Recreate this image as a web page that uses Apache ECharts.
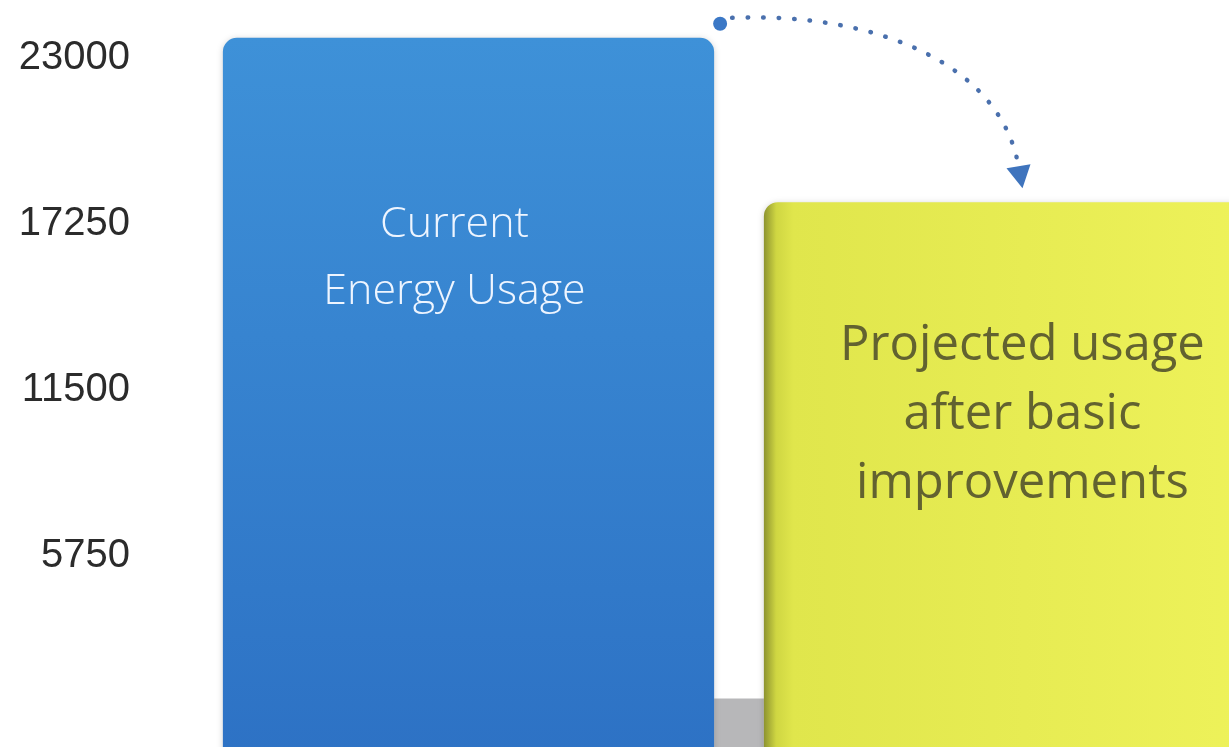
<!DOCTYPE html>
<html>
<head>
<meta charset="utf-8">
<script src="https://cdn.jsdelivr.net/npm/echarts@6/dist/echarts.min.js"></script>
<style>
html,body{margin:0;padding:0;background:#fff;}
#main{width:1229px;height:747px;}
</style>
</head>
<body>
<div id="main"></div>
<script>
// ---- data ----
var categories = ['Current Energy Usage', 'Projected usage after basic improvements'];
var barLabels = ['Current\nEnergy Usage', 'Projected usage\nafter basic\nimprovements'];
var values = [23700, 18000];
var tickValues = [5750, 11500, 17250, 23000];
var AXIS_MIN = -5750, AXIS_MAX = 23000, AXIS_STEP = 5750;

var chart = echarts.init(document.getElementById('main'));

var BAR_RATIO = 0.908;
var textStyles = [
  {dx: -14, dy: 220, fill: '#eef5ff', fontSize: 43, fontWeight: 300, lineHeight: 67},
  {dx: 13, dy: 213, fill: '#626230', fontSize: 49, fontWeight: 400, lineHeight: 69}
];
var fills = [
  new echarts.graphic.LinearGradient(0, 0, 0, 1, [
    {offset: 0, color: '#3e91d8'}, {offset: 1, color: '#2a6cc1'}
  ]),
  new echarts.graphic.LinearGradient(0, 0, 1, 0, [
    {offset: 0, color: '#8d9330'}, {offset: 0.025, color: '#cfd642'},
    {offset: 0.06, color: '#e0e64c'}, {offset: 1, color: '#eef25a'}
  ])
];

function renderBar(params, api) {
  var idx = api.value(0);
  var top = api.coord([idx, api.value(1)]);
  var base = api.coord([idx, AXIS_MIN]);
  var w = api.size([1, 0])[0] * BAR_RATIO;
  var ts = textStyles[idx];
  return {
    type: 'group',
    children: [
      {
        type: 'rect',
        shape: {x: top[0] - w / 2, y: top[1], width: w, height: base[1] - top[1], r: [14, 14, 0, 0]},
        style: {fill: fills[idx], shadowBlur: 6, shadowColor: 'rgba(0,0,0,0.18)', shadowOffsetX: 0, shadowOffsetY: 1}
      },
      {
        type: 'text',
        x: top[0] + ts.dx,
        y: top[1] + ts.dy,
        style: {
          text: barLabels[idx], fill: ts.fill, fontSize: ts.fontSize, fontWeight: ts.fontWeight,
          fontFamily: '"Open Sans"', lineHeight: ts.lineHeight, align: 'center', verticalAlign: 'middle'
        }
      }
    ]
  };
}

chart.setOption({
  backgroundColor: '#ffffff',
  animation: false,
  grid: {left: 198, right: -51, top: 58, height: 829.4, containLabel: false, outerBoundsMode: 'none'},
  xAxis: {
    type: 'category', data: categories, boundaryGap: true,
    axisLine: {show: false}, axisTick: {show: false}, axisLabel: {show: false}, splitLine: {show: false}
  },
  yAxis: {
    type: 'value', min: AXIS_MIN, max: AXIS_MAX, interval: AXIS_STEP,
    axisLine: {show: false}, axisTick: {show: false}, splitLine: {show: false},
    axisLabel: {
      margin: 68, color: '#2b2b2b', fontSize: 40, fontFamily: 'Liberation Sans',
      formatter: function (v) { return tickValues.indexOf(v) >= 0 ? String(v) : ''; }
    }
  },
  series: [{
    type: 'custom',
    renderItem: renderBar,
    data: values.map(function (v, i) { return [i, v]; }),
    encode: {x: 0, y: 1},
    clip: false,
    z: 2
  }]
});

// annotation: gray base block and dotted arrow, positioned from bar geometry
var band = chart.getModel().getComponent('xAxis', 0).axis.getBandWidth();
var w = band * BAR_RATIO;
var p0 = chart.convertToPixel({gridIndex: 0}, [0, values[0]]);
var p1 = chart.convertToPixel({gridIndex: 0}, [1, values[1]]);
var z0 = chart.convertToPixel({gridIndex: 0}, [0, 0]);
var b0 = chart.convertToPixel({gridIndex: 0}, [0, AXIS_MIN]);
var blueRight = p0[0] + w / 2, yellowLeft = p1[0] - w / 2;
var sx = blueRight + 6, sy = p0[1] - 14;
var ex = p1[0] + 12, ey = p1[1] - 15;

chart.setOption({
  graphic: [
    {type: 'rect', z: 1, shape: {x: blueRight, y: z0[1] - 23, width: yellowLeft - blueRight, height: b0[1] - z0[1] + 23},
     style: {fill: '#b7b7b9'}},
    {type: 'bezierCurve', z: 5,
     shape: {x1: sx + 12, y1: sy - 6, cpx1: sx + 160, cpy1: sy - 12, cpx2: ex - 15, cpy2: ey - 120, x2: ex - 2, y2: ey - 14},
     style: {stroke: '#4a70ad', lineWidth: 4.5, lineDash: [0.5, 15], lineCap: 'round', fill: null}},
    {type: 'circle', z: 5, shape: {cx: sx, cy: sy, r: 7}, style: {fill: '#3b78c6'}},
    {type: 'polygon', z: 5, shape: {points: [[ex - 15, ey - 19], [ex + 9, ey - 23], [ex + 1, ey + 1]]},
     style: {fill: '#3f74bd'}}
  ]
});
</script>
</body>
</html>
